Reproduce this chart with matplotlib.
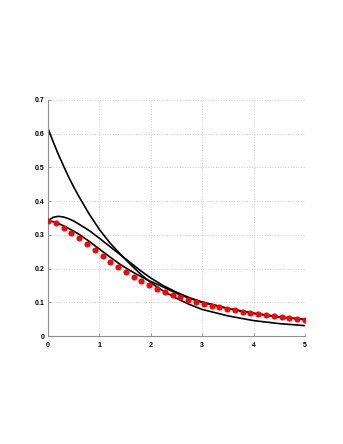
import numpy as np
import matplotlib.pyplot as plt

# sampled data (red dots)
x_pts = np.linspace(0, 5, 34)
y_pts = [0.341, 0.334, 0.321, 0.307, 0.290, 0.272, 0.255, 0.237, 0.220, 0.205,
         0.190, 0.176, 0.163, 0.152, 0.141, 0.131, 0.123, 0.115, 0.108, 0.101,
         0.095, 0.090, 0.085, 0.080, 0.076, 0.072, 0.068, 0.065, 0.062, 0.059,
         0.056, 0.053, 0.050, 0.048]

# approximating curves
x_curve = [0, 0.1, 0.2, 0.3, 0.4, 0.5, 0.6, 0.8, 1.0, 1.2, 1.4, 1.6, 1.8, 2.0,
           2.25, 2.5, 2.75, 3.0, 3.5, 4.0, 4.5, 5.0]
curve_a = [0.615, 0.576, 0.539, 0.505, 0.472, 0.442, 0.414, 0.362, 0.316, 0.277,
           0.244, 0.213, 0.184, 0.158, 0.133, 0.112, 0.094, 0.079, 0.060, 0.046,
           0.037, 0.031]
curve_b = [0.342, 0.352, 0.355, 0.353, 0.348, 0.341, 0.332, 0.313, 0.290, 0.266,
           0.242, 0.218, 0.194, 0.172, 0.149, 0.130, 0.114, 0.101, 0.082, 0.068,
           0.057, 0.049]
curve_c = [0.342, 0.339, 0.334, 0.327, 0.319, 0.311, 0.302, 0.281, 0.258, 0.235,
           0.213, 0.194, 0.177, 0.162, 0.145, 0.127, 0.112, 0.100, 0.082, 0.067,
           0.057, 0.049]

x_ticks = [0, 1, 2, 3, 4, 5]
y_ticks = [0, 0.1, 0.2, 0.3, 0.4, 0.5, 0.6, 0.7]
y_ticklabels = ['0', '0.1', '0.2', '0.3', '0.4', '0.5', '0.6', '0.7']

plt.rcParams['font.family'] = ['Liberation Sans', 'DejaVu Sans']

fig = plt.figure(figsize=(3.43, 4.44), dpi=100)
ax = fig.add_axes([0.140, 0.243, 0.749, 0.532])

for c in (curve_a, curve_b, curve_c):
    ax.plot(x_curve, c, color='black', lw=1.2, zorder=2)
ax.plot(x_pts, y_pts, 'o', color='red', markersize=4.4, markeredgewidth=0,
        zorder=3)

ax.set_xlim(0, 5)
ax.set_ylim(0, 0.7)
ax.set_xticks(x_ticks)
ax.set_yticks(y_ticks)
ax.set_yticklabels(y_ticklabels)
ax.grid(True, linestyle=':', color='#cccccc', lw=0.7)
ax.set_axisbelow(True)

for s in ('top', 'right'):
    ax.spines[s].set_visible(False)
for s in ('left', 'bottom'):
    ax.spines[s].set_color('#909090')
    ax.spines[s].set_linewidth(0.8)

ax.tick_params(direction='in', length=2, width=0.6, color='#909090',
               labelsize=5, pad=2.5)
ax.tick_params(axis='x', pad=4)
for lab in ax.get_xticklabels() + ax.get_yticklabels():
    lab.set_fontweight('bold')

fig.savefig('out.png', dpi=100)
